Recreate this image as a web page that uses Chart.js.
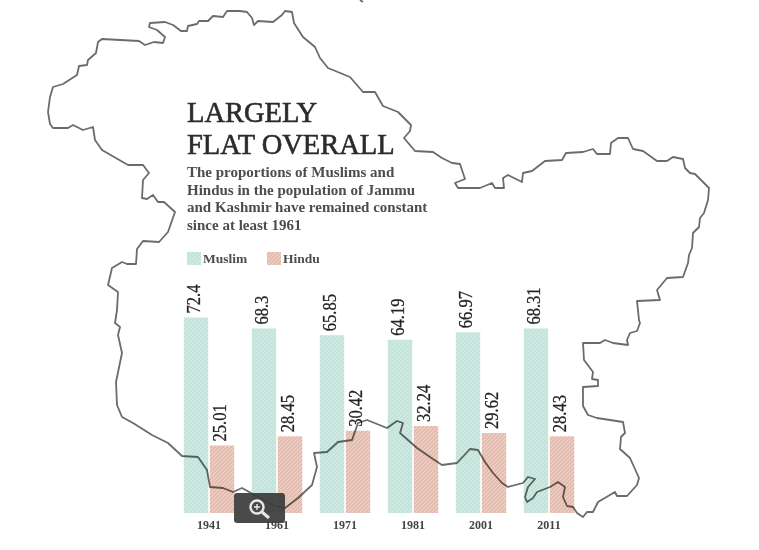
<!DOCTYPE html>
<html>
<head>
<meta charset="utf-8">
<script src="https://cdn.jsdelivr.net/npm/chart.js@4"></script>
<style>
  html, body { margin: 0; padding: 0; background: #fff; }
  #wrap { position: relative; width: 759px; height: 550px; overflow: hidden; }
  #chart { position: absolute; left: 0; top: 0; }
  #map { position: absolute; left: 0; top: 0; mix-blend-mode: multiply; }
  #zoomBtn { position: absolute; left: 0; top: 0; }
  #head { position: absolute; left: 187px; top: 97px; font-family: "Liberation Serif", serif; white-space: nowrap; }
  #head h1 { margin: 0; font-size: 28.5px; line-height: 32px; font-weight: normal; color: #2b2b2b; -webkit-text-stroke: 0.6px #2b2b2b; }
  #head p { margin: 3px 0 0; font-size: 15px; line-height: 17.7px; font-weight: bold; color: #4d4d4d; }
</style>
</head>
<body>
<div id="wrap">
  <canvas id="chart" width="759" height="550"></canvas>
  <svg id="map" width="759" height="550" fill="none" stroke="#6b6b6b" stroke-width="1.8" stroke-linejoin="round">
    <path d="M50 97 53 87 63 84 77 75 79 66 87 65 88 60 96 53 98 42 102 39 139 41 145 45 154 42 163 43 165 37 157 30 149 27 150 23 165 22 173 25 181 31 187 31 188 26 197 24 199 21 208 21 213 16 223 17 227 11 240 11 247 12 252 18 254 25 258 21 273 22 282 15 285 11 292 12 294 23 303 37 315 47 320 58 328 68 350 77 363 92 375 92 383 106 398 112 411 125 410 131 404 138 415 151 433 152 442 158 452 163 460 164 465 179 455 183 458 188 480 188 492 183 495 188 504 188 503 178 508 175 522 182 523 173 532 171 545 161 562 160 566 153 583 152 593 149 597 154 610 154 611 143 618 138 628 138 633 149 643 151 657 161 667 161 673 157 683 159 685 168 690 173 695 174 703 182 709 188 708 200 704 213 700 218 699 227 693 233 692 248 689 255 688 263 683 277 667 278 657 290 660 300 637 301 639 320 640 323 637 331 630 333 627 340 628 345 613 343 605 340 600 343 583 343 584 360 593 372 592 379 598 380 598 386 583 387 583 406 588 415 597 418 623 422 625 433 621 437 620 449 630 458 639 478 637 485 627 496 617 496 615 492 598 502 593 512 587 512 583 517 577 513 573 507 567 506 563 497 565 487 558 482 550 487 537 492 533 498 527 502 525 497 528 487 535 479 528 477 523 483 508 487 502 483 493 473 485 462 478 450 470 449 457 463 442 465 430 457 417 448 400 433 403 423 397 421 387 428 377 424 367 420 358 423 352 440 338 442 327 452 314 453 317 467 312 485 298 498 285 508 273 505 242 488 233 492 223 488 210 487 207 470 198 457 182 456 168 443 152 435 133 423 122 417 117 405 116 382 122 353 118 335 120 327 115 323 117 310 118 292 108 285 112 268 122 262 127 264 136 264 137 249 143 241 159 242 168 232 175 212 164 202 158 202 153 195 147 199 142 198 143 180 149 173 143 165 128 165 102 150 95 140 93 127 83 130 73 125 68 128 53 128 50 124 48 112 50 97Z"/>
    <path d="M360 0 363 2"/>
  </svg>
  <svg id="zoomBtn" width="759" height="550" fill="none">
    <rect x="234" y="493" width="51" height="30" rx="3" fill="#3c3c3c" fill-opacity="0.93"/>
    <circle cx="257" cy="507" r="6.5" stroke="#e8e8e8" stroke-width="2.4"/>
    <path d="M262 512 269 518" stroke="#e8e8e8" stroke-width="3"/>
    <path d="M254 507h6M257 504v6" stroke="#e8e8e8" stroke-width="1.4"/>
  </svg>
  <div id="head">
    <h1>LARGELY<br>FLAT OVERALL</h1>
    <p>The proportions of Muslims and<br>Hindus in the population of Jammu<br>and Kashmir have remained constant<br>since at least 1961</p>
  </div>
</div>
<script>
const years = ["1941", "1961", "1971", "1981", "2001", "2011"];
const muslim = [72.4, 68.3, 65.85, 64.19, 66.97, 68.31];
const hindu = [25.01, 28.45, 30.42, 32.24, 29.62, 28.43];
const muslimLabels = ["72.4", "68.3", "65.85", "64.19", "66.97", "68.31"];
const hinduLabels = ["25.01", "28.45", "30.42", "32.24", "29.62", "28.43"];

// diagonal hatch used for the bars and the legend swatches
function hatch(base, line) {
    const c = document.createElement("canvas");
    c.width = 4;
    c.height = 4;
    const g = c.getContext("2d");
    g.fillStyle = base;
    g.fillRect(0, 0, 4, 4);
    g.strokeStyle = line;
    g.lineWidth = 1;
    g.beginPath();
    g.moveTo(-1, 1); g.lineTo(1, -1);
    g.moveTo(0, 4); g.lineTo(4, 0);
    g.moveTo(3, 5); g.lineTo(5, 3);
    g.stroke();
    return g.createPattern(c, "repeat");
}

const ctx = document.getElementById("chart").getContext("2d");
const muslimFill = hatch("#c5e3da", "#d6ece5");
const hinduFill = hatch("#e2bfb2", "#eed4ca");

// values written upright along the bars
const barValues = {
    id: "barValues",
    afterDatasetsDraw(chart) {
        const g = chart.ctx;
        const texts = [muslimLabels, hinduLabels];
        chart.data.datasets.forEach((ds, d) => {
            chart.getDatasetMeta(d).data.forEach((bar, i) => {
                g.save();
                g.translate(bar.x - 1, bar.y - 4);
                g.rotate(-Math.PI / 2);
                g.scale(0.87, 1);
                g.font = "19px 'Liberation Serif'";
                g.fillStyle = "#222";
                g.strokeStyle = "#222";
                g.lineWidth = 0.3;
                g.textAlign = "left";
                g.textBaseline = "middle";
                g.fillText(texts[d][i], 0, 0);
                g.strokeText(texts[d][i], 0, 0);
                g.restore();
            });
        });
    }
};

// legend sits above the plot, left aligned with the heading
const swatchLegend = {
    id: "swatchLegend",
    afterDraw(chart) {
        const g = chart.ctx;
        const xs = [187, 267];
        chart.data.datasets.forEach((ds, d) => {
            g.save();
            g.fillStyle = ds.backgroundColor;
            g.fillRect(xs[d], 252, 14, 13);
            g.font = "bold 13.5px 'Liberation Serif'";
            g.fillStyle = "#4d4d4d";
            g.textBaseline = "alphabetic";
            g.fillText(ds.label, xs[d] + 16, 263);
            g.restore();
        });
    }
};

new Chart(ctx, {
    type: "bar",
    data: {
        labels: years,
        datasets: [
            { label: "Muslim", data: muslim, backgroundColor: muslimFill },
            { label: "Hindu", data: hindu, backgroundColor: hinduFill }
        ]
    },
    options: {
        responsive: false,
        animation: false,
        categoryPercentage: 0.765,
        barPercentage: 0.94,
        layout: { padding: { left: 175, right: 176, top: 280, bottom: 17 } },
        plugins: {
            legend: { display: false },
            tooltip: { enabled: false }
        },
        scales: {
            x: {
                grid: { display: false },
                border: { display: false },
                afterFit(scale) { scale.height = 20; },
                ticks: {
                    padding: -2,
                    maxRotation: 0,
                    color: "#444",
                    font: { family: "'Liberation Serif'", size: 12, weight: "bold" }
                }
            },
            y: { display: false, min: 0, max: 86.3 }
        }
    },
    plugins: [barValues, swatchLegend]
});
</script>
</body>
</html>
